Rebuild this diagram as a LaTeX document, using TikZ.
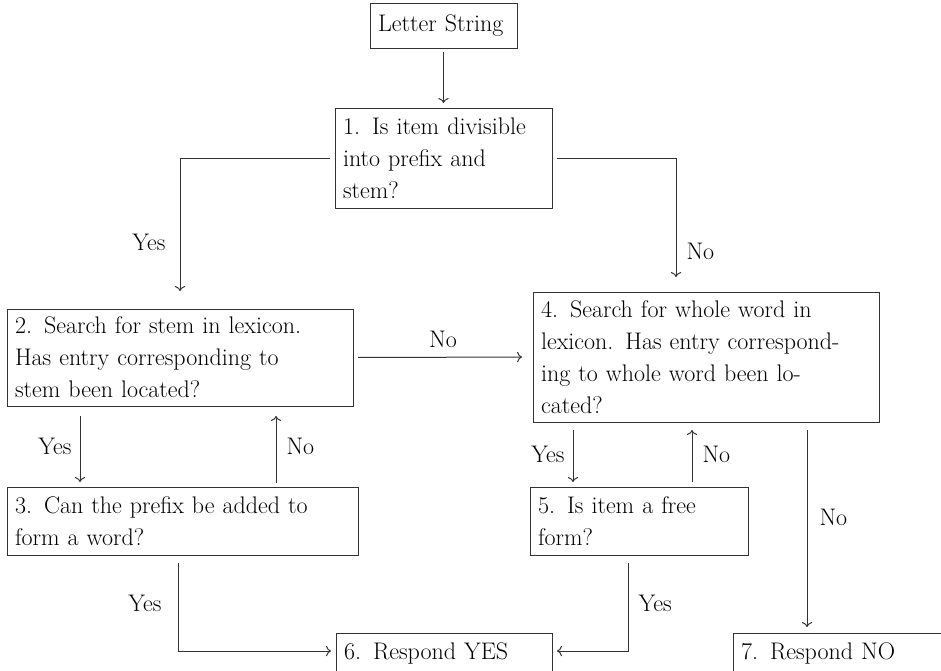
\documentclass[tikz,border=0pt]{standalone}
\usepackage{fontspec}
\usetikzlibrary{arrows.meta}
\newcommand{\boxfont}{\fontsize{24}{32}\selectfont}
\tikzset{
  box/.style={draw=black!80, line width=1pt, align=left, inner xsep=8pt, inner ysep=0pt, outer sep=0pt, anchor=north west, font=\boxfont},
  conn/.style={draw=black!80, line width=1pt, -{To[scale=1.3]}},
  lab/.style={font=\boxfont, inner sep=0pt}
}
\begin{document}
\begin{tikzpicture}[x=1pt,y=-1pt]
\useasboundingbox (0,0) rectangle (941,670);
\clip (0,0) rectangle (941,670);
\node[box, text width=131pt, minimum height=45pt] (ls) at (370,3) {Letter String};
\node[box, text width=201pt, minimum height=100pt] (b1) at (335,108) {1. Is item divisible\\into prefix and\\stem?};
\node[box, text width=330pt, minimum height=97pt] (b2) at (7,309) {2. Search for stem in lexicon.\\Has entry corresponding to\\stem been located?};
\node[box, text width=330pt, minimum height=130pt] (b4) at (533,292) {4. Search for whole word in\\lexicon. Has entry correspond-\\ing to whole word been lo-\\cated?};
\node[box, text width=335pt, minimum height=68pt] (b3) at (7,487) {3. Can the prefix be added to\\form a word?};
\node[box, text width=202pt, minimum height=68pt] (b5) at (530,487) {5. Is item a free\\form?};
\node[box, text width=200pt, minimum height=40pt] (b6) at (336,633) {6. Respond YES};
\node[box, text width=240pt, minimum height=40pt] (b7) at (733,633) {7. Respond NO};

% connectors
\draw[conn, shorten <=4pt, shorten >=5pt] (ls.south) -- (b1.north);
\draw[conn, shorten <=5pt, shorten >=18pt] (b1.west) -| node[lab, pos=0.78, anchor=east, xshift=-14pt] {Yes} (b2.north);
\coordinate (r4) at ([xshift=143pt]b4.north west);
\draw[conn, shorten <=5pt, shorten >=15pt] (b1.east) -| node[lab, pos=0.85, anchor=west, xshift=10pt] {No} (r4);
\draw[conn, shorten <=5pt, shorten >=11pt] (b2.east) -- node[lab, above=9pt] {No} (b4.west);
\draw[conn, shorten <=10pt, shorten >=5pt] ([xshift=73pt]b2.south west) -- node[lab, anchor=east, xshift=-8pt] {Yes} ([xshift=73pt]b3.north west);
\draw[conn, shorten <=4pt, shorten >=10pt] ([xshift=269pt]b3.north west) -- node[lab, anchor=west, xshift=10pt] {No} ([xshift=269pt]b2.south west);
\draw[conn, shorten <=8pt, shorten >=5pt] ([xshift=40pt]b4.south west) -- node[lab, anchor=east, xshift=-8pt] {Yes} ([xshift=43pt]b5.north west);
\draw[conn, shorten <=5pt, shorten >=8pt] ([xshift=162pt]b5.north west) -- node[lab, anchor=west, xshift=10pt] {No} ([xshift=159pt]b4.south west);
\draw[conn, shorten <=8pt, shorten >=6pt] ([xshift=274pt]b4.south west) -- node[lab, pos=0.45, anchor=west, xshift=12pt] {No} ([xshift=74pt]b7.north west);
\draw[conn, shorten <=8pt, shorten >=5pt] ([xshift=171pt]b3.south west) |- node[lab, pos=0.25, anchor=east, xshift=-16pt] {Yes} ([yshift=2pt]b6.west);
\draw[conn, shorten <=8pt, shorten >=5pt] ([xshift=98pt]b5.south west) |- node[lab, pos=0.25, anchor=west, xshift=10pt] {Yes} ([yshift=2pt]b6.east);
\end{tikzpicture}
\end{document}
